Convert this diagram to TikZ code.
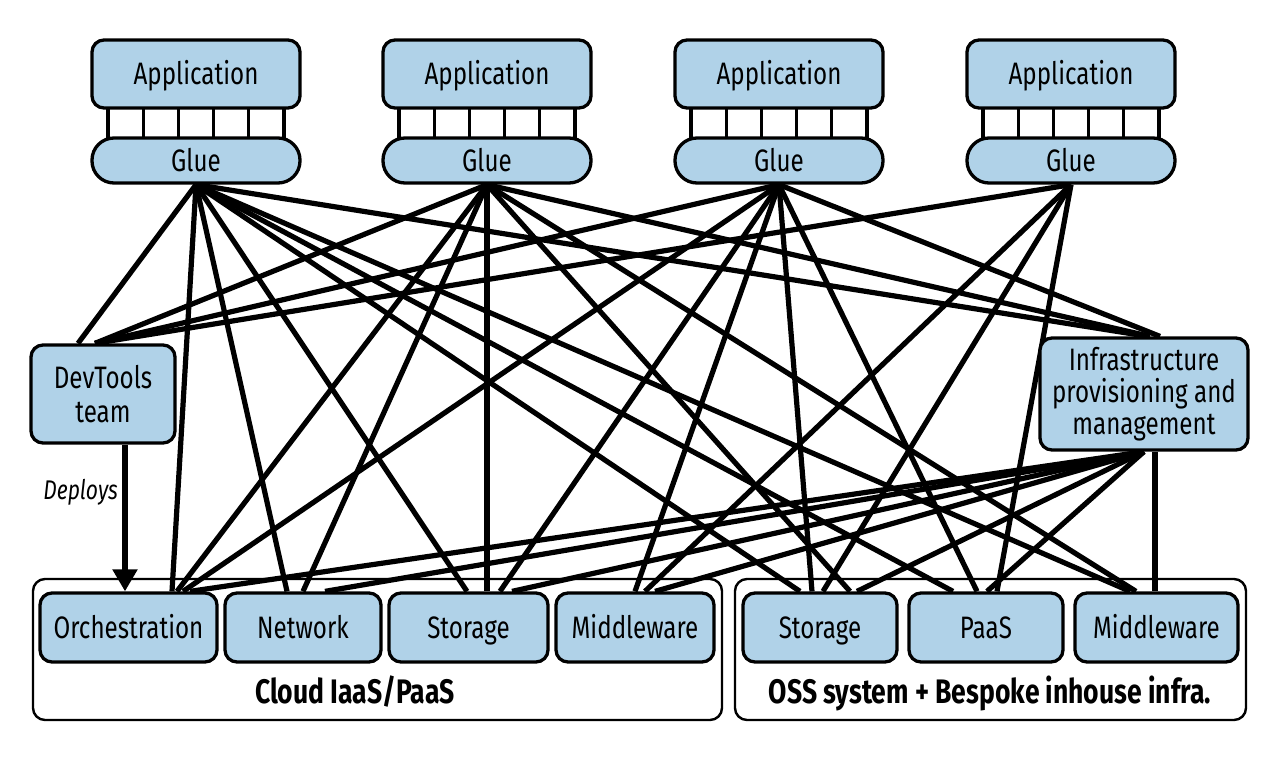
\documentclass[tikz,border=0pt]{standalone}
\usepackage{fontspec}
\setmainfont{Fira Sans}[FakeStretch=0.78]
\usetikzlibrary{arrows.meta,calc,backgrounds}
\definecolor{boxblue}{RGB}{176,210,232}
\begin{document}
\begin{tikzpicture}[x=1pt,y=-1pt]
\tikzset{
 bluebox/.style={draw=black, line width=3.3pt, fill=boxblue, rounded corners=12pt, inner sep=0pt, align=center, font=\fontsize{31}{33}\selectfont},
 oneline/.style={text height=24pt, text depth=3pt},
 outerbox/.style={draw=black, line width=2.4pt, rounded corners=12pt, inner sep=0pt},
 conn/.style={line width=5.2pt, black},
 strip/.style={line width=3.3pt, black},
 grouplabel/.style={font=\fontsize{34}{38}\selectfont\bfseries, inner sep=0pt, text height=26pt, text depth=3pt},
 bottombox/.style={bluebox, oneline, minimum height=69pt}
}
\useasboundingbox (0,0) rectangle (1280,761);

% top: applications, glue strips
\foreach \i/\x in {1/196,2/487,3/779,4/1071} {
  \draw[strip, fill=white] ({\x-88},106) rectangle ({\x+88},140);
  \foreach \k in {1,...,4} \draw[strip] ({\x-88+35.2*\k},106) -- ({\x-88+35.2*\k},140);
  \node[bluebox, oneline, minimum width=208pt, minimum height=68pt] (app\i) at (\x,74) {Application};
  \node[bluebox, oneline, minimum width=208pt, minimum height=45pt, rounded corners=22pt] (glue\i) at (\x,160.5) {Glue};
}

% middle boxes
\node[bluebox, minimum width=144pt, minimum height=98pt, font=\fontsize{31}{34}\selectfont] (dev) at (103,394) {DevTools\\team};
\node[bluebox, minimum width=208pt, minimum height=112pt, font=\fontsize{31}{32}\selectfont] (infra) at (1144,394) {Infrastructure\\provisioning and\\management};

% bottom groups
\node[outerbox, minimum width=689pt, minimum height=141pt] (cloud) at (377.5,649.5) {};
\node[outerbox, minimum width=511pt, minimum height=141pt] (oss) at (990.5,649.5) {};
\node[grouplabel] (cloudlbl) at (355,692) {Cloud IaaS/PaaS};
\node[grouplabel] (osslbl) at (990,692) {OSS system + Bespoke inhouse infra.};

\node[bottombox, minimum width=177pt] (orch) at (128.5,627.5) {Orchestration};
\node[bottombox, minimum width=156pt] (net) at (303,627.5) {Network};
\node[bottombox, minimum width=159pt] (storc) at (468.5,627.5) {Storage};
\node[bottombox, minimum width=158pt] (midc) at (635,627.5) {Middleware};
\node[bottombox, minimum width=154pt] (storo) at (820,627.5) {Storage};
\node[bottombox, minimum width=154pt] (paas) at (986,627.5) {PaaS};
\node[bottombox, minimum width=163pt] (mido) at (1156.5,627.5) {Middleware};

% deploys arrow
\draw[conn, -{Triangle[length=22pt,width=24pt]}] ($(dev.south)+(22,0)$) -- ($(orch.north)+(-3.5,0)$);
\node[font=\fontsize{27}{30}\selectfont\itshape, anchor=east, inner sep=0pt] (deploys) at (118,492) {Deploys};

\begin{pgfonlayer}{background}
\fill[white] (0,0) rectangle (1280,761);
% Glue 1
\draw[conn] (glue1.south) -- ($(dev.north)+(-25,0)$);
\draw[conn] (glue1.south) -- ($(orch.north)+(43.5,0)$);
\draw[conn] (glue1.south) -- ($(net.north)+(-16,0)$);
\draw[conn] (glue1.south) -- ($(storc.north)+(-1.5,0)$);
\draw[conn] (glue1.south) -- ($(storo.north)+(-20,0)$);
\draw[conn] (glue1.south) -- ($(paas.north)+(-33,0)$);
\draw[conn] (glue1.south) -- ($(mido.north)+(-26.5,0)$);
\draw[conn] (glue1.south) -- ($(infra.north)+(4,0)$);
% Glue 2
\draw[conn] (glue2.south) -- ($(dev.north)+(-8,0)$);
\draw[conn] (glue2.south) -- ($(orch.north)+(48.5,0)$);
\draw[conn] (glue2.south) -- ($(net.north)+(0,0)$);
\draw[conn] (glue2.south) -- ($(storc.north)+(18.5,0)$);
\draw[conn] (glue2.south) -- ($(storo.north)+(30,0)$);
\draw[conn] (glue2.south) -- ($(mido.north)+(-20.5,0)$);
\draw[conn] (glue2.south) -- ($(infra.north)+(6,0)$);
% Glue 3
\draw[conn] (glue3.south) -- ($(dev.north)+(-8,0)$);
\draw[conn] (glue3.south) -- ($(orch.north)+(54.5,0)$);
\draw[conn] (glue3.south) -- ($(storc.north)+(31.5,0)$);
\draw[conn] (glue3.south) -- ($(midc.north)+(0,0)$);
\draw[conn] (glue3.south) -- ($(storo.north)+(-8,0)$);
\draw[conn] (glue3.south) -- ($(paas.north)+(-9,0)$);
\draw[conn] (glue3.south) -- ($(infra.north)+(16,0)$);
% Glue 4
\draw[conn] (glue4.south) -- ($(dev.north)+(-8,0)$);
\draw[conn] (glue4.south) -- ($(midc.north)+(10,0)$);
\draw[conn] (glue4.south) -- ($(storo.north)+(3,0)$);
\draw[conn] (glue4.south) -- ($(paas.north)+(11,0)$);
% Infrastructure
\draw[conn] (infra.south) -- ($(orch.north)+(61.5,0)$);
\draw[conn] (infra.south) -- ($(net.north)+(22,0)$);
\draw[conn] (infra.south) -- ($(storc.north)+(43.5,0)$);
\draw[conn] (infra.south) -- ($(midc.north)+(20,0)$);
\draw[conn] (infra.south) -- ($(storo.north)+(37,0)$);
\draw[conn] (infra.south) -- ($(paas.north)+(1,0)$);
\draw[conn] ($(infra.south)+(11,0)$) -- ($(mido.north)+(-1.5,0)$);
\end{pgfonlayer}
\end{tikzpicture}
\end{document}
